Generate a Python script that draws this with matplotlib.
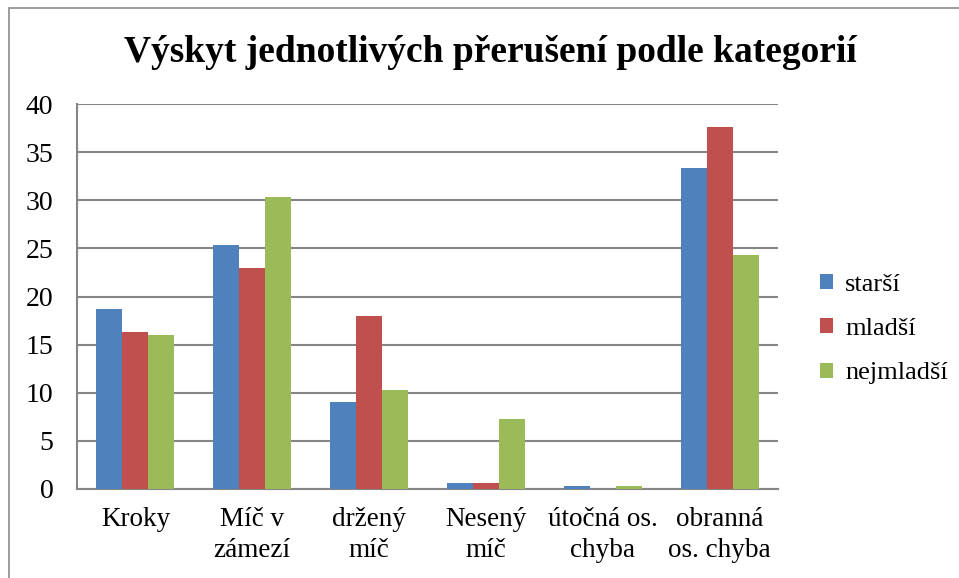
import numpy as np
import matplotlib
matplotlib.use("Agg")
import matplotlib.pyplot as plt
from matplotlib.patches import Rectangle

# Data
categories = ["Kroky", "Míč v\nzámezí", "držený\nmíč", "Nesený\nmíč",
              "útočná os.\nchyba", "obranná\nos. chyba"]
starsi = [18.7, 25.3, 9.0, 0.6, 0.3, 33.3]
mladsi = [16.3, 23.0, 18.0, 0.6, 0.0, 37.6]
nejmladsi = [16.0, 30.3, 10.3, 7.3, 0.3, 24.3]
series_names = ["starší", "mladší", "nejmladší"]
colors = ["#4F81BD", "#C0504D", "#9BBB59"]

plt.rcParams['font.family'] = ['Liberation Serif', 'DejaVu Serif']

fig = plt.figure(figsize=(9.59, 5.78), dpi=100)

# outer chart border
fig.patches.append(Rectangle((9 / 959, -0.05), 1.1, (578 - 8) / 578 + 0.05,
                             transform=fig.transFigure, fill=False,
                             edgecolor="#8c8c8c", linewidth=1.2))

ax = fig.add_axes([77 / 959, 89 / 578, 701 / 959, 385 / 578])

x = np.arange(len(categories))
w = 1 / 4.5
for i, (vals, name, c) in enumerate(zip([starsi, mladsi, nejmladsi], series_names, colors)):
    ax.bar(x + (i - 1) * w, vals, width=w, color=c, label=name, zorder=3)

ax.set_xlim(-0.5, len(categories) - 0.5)
ax.set_ylim(0, 40)
ax.set_yticks(range(0, 41, 5))
ax.yaxis.grid(True, color="#868686", linewidth=1.5, zorder=0)
ax.set_xticks(x)
ax.set_xticklabels(categories, fontsize=19.5, linespacing=1.3)
ax.tick_params(axis='y', labelsize=20, length=0, pad=17)
ax.tick_params(axis='x', length=0, pad=13)
for s in ["top", "right"]:
    ax.spines[s].set_visible(False)
for s in ["left", "bottom"]:
    ax.spines[s].set_color("#868686")
    ax.spines[s].set_linewidth(1.5)

fig.text(490 / 959, (578 - 62) / 578, "Výskyt jednotlivých přerušení podle kategorií",
         ha="center", va="baseline", fontsize=27, fontweight="bold")

ax.legend(loc="center left", bbox_to_anchor=(820 / 959, (578 - 329) / 578),
          bbox_transform=fig.transFigure, frameon=False, fontsize=19,
          handlelength=0.5, handleheight=0.5, handletextpad=0.45,
          labelspacing=0.85, borderaxespad=0, borderpad=0)

fig.savefig("out.png", dpi=100)
